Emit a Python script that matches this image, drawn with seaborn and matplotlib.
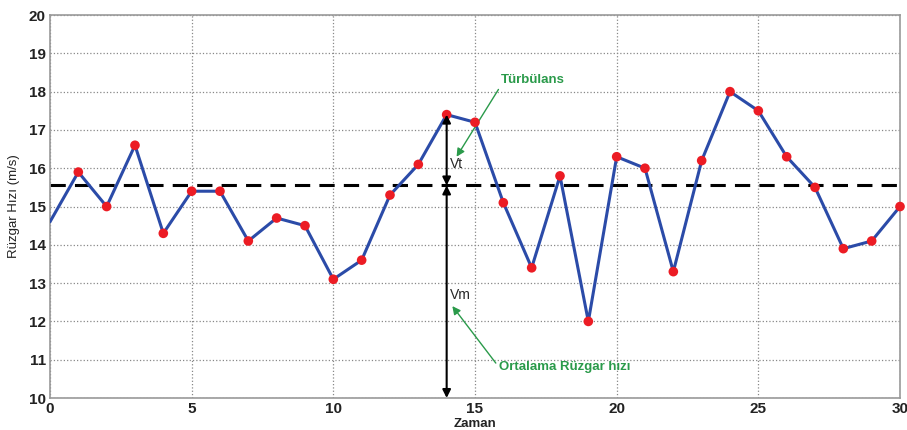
import matplotlib
matplotlib.use("Agg")
import matplotlib.pyplot as plt
import seaborn as sns
import pandas as pd
import numpy as np

# wind speed series
zaman = list(range(0, 31))
hiz = [14.6, 15.9, 15.0, 16.6, 14.3, 15.4, 15.4, 14.1, 14.7, 14.5,
       13.1, 13.6, 15.3, 16.1, 17.4, 17.2, 15.1, 13.4, 15.8, 12.0,
       16.3, 16.0, 13.3, 16.2, 18.0, 17.5, 16.3, 15.5, 13.9, 14.1, 15.0]
ortalama = 15.55
x_ticks = [0, 5, 10, 15, 20, 25, 30]
y_ticks = list(range(10, 21))
ok_x = 14

sns.set_style("white")
plt.rcParams["font.family"] = ["Liberation Sans", "DejaVu Sans"]

df = pd.DataFrame({"Zaman": zaman, "Hiz": hiz})

fig = plt.figure(figsize=(9.07, 4.30), dpi=100)
ax = fig.add_axes([0.0551, 0.0744, 0.9372, 0.8906])

sns.lineplot(data=df, x="Zaman", y="Hiz", ax=ax, color="#2b4ba8", linewidth=2.2, zorder=3)
sns.scatterplot(data=df.iloc[1:], x="Zaman", y="Hiz", ax=ax, color="#ec1c24",
                s=48, edgecolor="none", zorder=4, clip_on=False)

ax.axhline(ortalama, color="black", linestyle=(0, (5, 3)), linewidth=2.2, zorder=2)

ax.set_xlim(0, 30)
ax.set_ylim(10, 20)
ax.set_xticks(x_ticks)
ax.set_yticks(y_ticks)
ax.grid(True, linestyle=":", color="#888888", linewidth=0.9)
for sp in ax.spines.values():
    sp.set_color("#999999")
    sp.set_linewidth(1.2)
ax.tick_params(axis="both", labelsize=11, length=0, pad=3)
for lab in ax.get_xticklabels() + ax.get_yticklabels():
    lab.set_fontweight("bold")
    lab.set_color("#222222")

ax.set_xlabel("Zaman", fontsize=9.5, fontweight="bold", color="#222222", labelpad=1)
ax.set_ylabel("Rüzgar Hızı (m/s)", fontsize=9.5, color="#222222", labelpad=6)

# Vt and Vm double arrows
arr = dict(arrowstyle="<|-|>", color="black", lw=1.5, mutation_scale=12, shrinkA=0, shrinkB=0)
ax.annotate("", xy=(ok_x, hiz[ok_x]), xytext=(ok_x, ortalama), arrowprops=arr, zorder=5)
ax.annotate("", xy=(ok_x, ortalama), xytext=(ok_x, 10.0), arrowprops=arr, zorder=5)
ax.text(ok_x + 0.12, 16.1, "Vt", fontsize=10, va="center")
ax.text(ok_x + 0.12, 12.68, "Vm", fontsize=10, va="center")

green = "#2a9a4a"
ax.annotate("Türbülans", xy=(14.35, 16.3), xytext=(15.9, 18.3),
            color=green, fontsize=9.5, fontweight="bold", va="center",
            arrowprops=dict(arrowstyle="-|>", color=green, lw=1.0, mutation_scale=12,
                            shrinkA=0, shrinkB=0, relpos=(0.0, 0.0)))
ax.annotate("Ortalama Rüzgar hızı", xy=(14.2, 12.4), xytext=(15.85, 10.8),
            color=green, fontsize=9.5, fontweight="bold", va="center",
            arrowprops=dict(arrowstyle="-|>", color=green, lw=1.0, mutation_scale=12,
                            shrinkA=0, shrinkB=0, relpos=(0.0, 0.5)))

fig.savefig("out.png", dpi=100)
